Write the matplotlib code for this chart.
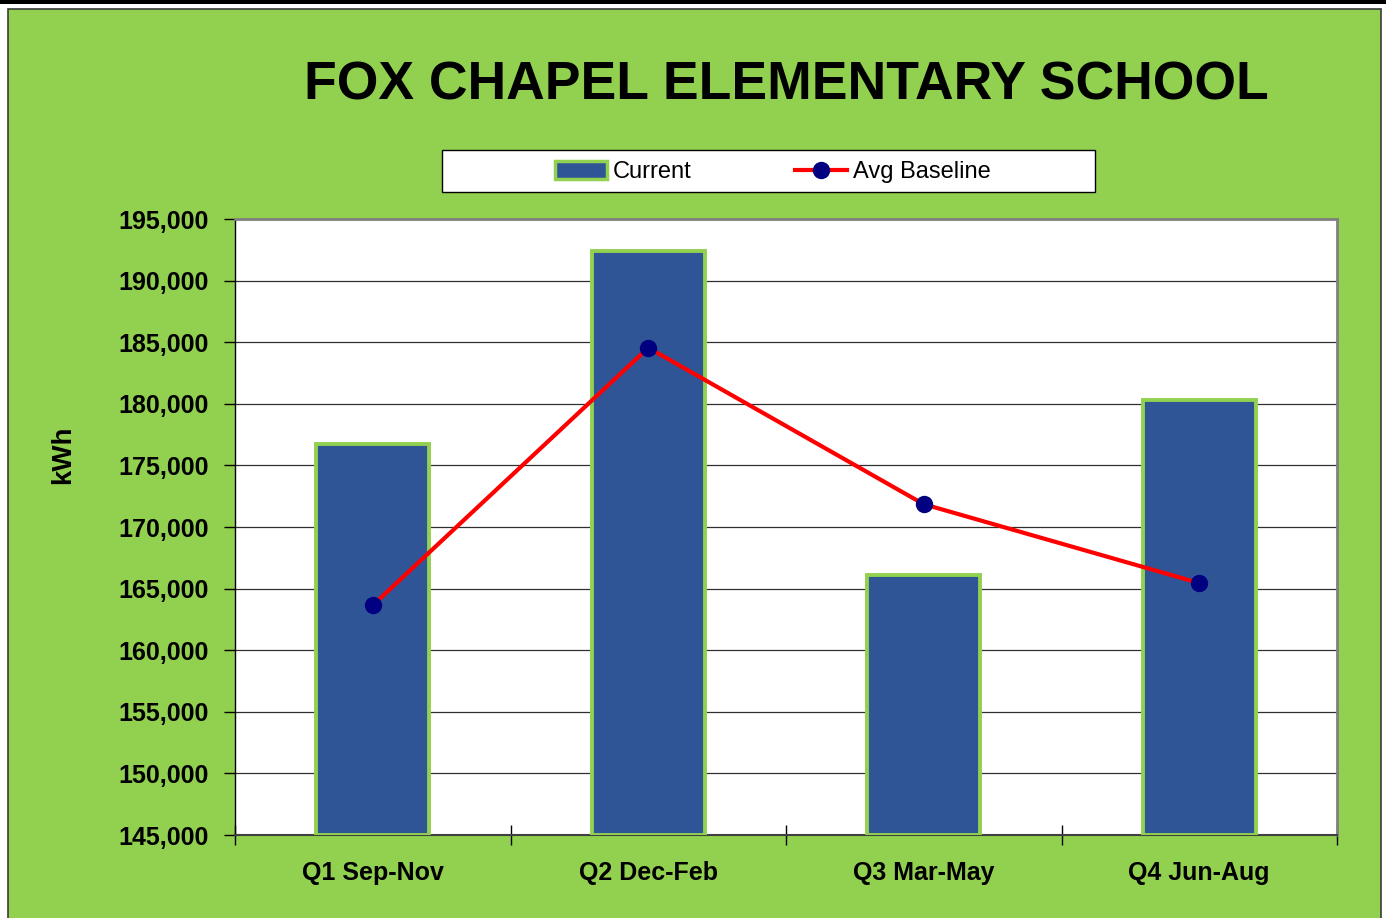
import matplotlib
matplotlib.use('Agg')
import matplotlib.pyplot as plt
from matplotlib.patches import Rectangle, Patch
from matplotlib.lines import Line2D
from matplotlib.ticker import FuncFormatter, FixedLocator

# ---- data ----
quarters = ['Q1 Sep-Nov', 'Q2 Dec-Feb', 'Q3 Mar-May', 'Q4 Jun-Aug']
current = [176700, 192400, 166100, 180300]
avg_baseline = [163650, 184550, 171850, 165450]

TITLE = 'FOX CHAPEL ELEMENTARY SCHOOL'
YLIM = (145000, 195000)

C_BG = '#92D050'
C_BAR = '#2F5597'
C_LINE = '#FF0000'
C_MARK = '#000080'
FONT = ['Liberation Sans Narrow', 'Liberation Sans', 'DejaVu Sans']

W, H = 1386, 918


def fx(px):
    return px / W


def fy(py):
    return 1 - py / H


fig = plt.figure(figsize=(W / 100, H / 100), dpi=100)
fig.patch.set_facecolor('white')

# black strip on top + green chart area
fig.add_artist(Rectangle((0, fy(3.5)), 1, 3.5 / H, transform=fig.transFigure,
                         facecolor='black', edgecolor='none', zorder=0))
fig.add_artist(Rectangle((fx(8), fy(930)), fx(1381) - fx(8), fy(9) - fy(930),
                         transform=fig.transFigure, facecolor=C_BG,
                         edgecolor='#3a3a3a', lw=1.2, zorder=0))

ax = fig.add_axes([fx(235), fy(835), fx(1337) - fx(235), fy(219) - fy(835)])
ax.set_facecolor('white')
ax.set_zorder(2)

x = list(range(len(quarters)))
ax.bar(x, [c - YLIM[0] for c in current], bottom=YLIM[0], width=0.41,
       color=C_BAR, edgecolor=C_BG, linewidth=2.8, zorder=3)
ax.plot(x, avg_baseline, color=C_LINE, lw=3, marker='o', markersize=11.5,
        markerfacecolor=C_MARK, markeredgecolor=C_MARK, zorder=4)

ax.set_xlim(-0.5, 3.5)
ax.set_ylim(*YLIM)
ax.yaxis.set_major_locator(FixedLocator(range(145000, 195001, 5000)))
ax.yaxis.set_major_formatter(FuncFormatter(lambda v, p: f'{int(v):,}'))
ax.grid(axis='y', color='#303030', lw=0.9, zorder=1)
ax.set_axisbelow(True)

ax.set_xticks([-0.5, 0.5, 1.5, 2.5, 3.5])
ax.set_xticklabels([])
ax.set_xticks(x, minor=True)
ax.set_xticklabels(quarters, minor=True, fontsize=18, fontweight='bold',
                   family=FONT)
ax.tick_params(axis='x', which='major', direction='inout', length=14,
               width=1, color='black')
ax.tick_params(axis='x', which='minor', length=0, pad=19)
ax.tick_params(axis='y', direction='out', length=8, width=1, pad=11,
               color='black')
for lab in ax.get_yticklabels():
    lab.set_fontsize(18)
    lab.set_fontweight('bold')
    lab.set_family(FONT)

for side in ('top', 'right'):
    ax.spines[side].set_color('#808080')
    ax.spines[side].set_linewidth(2)
ax.spines['left'].set_color('black')
ax.spines['left'].set_linewidth(1)
ax.spines['bottom'].set_color('#404040')
ax.spines['bottom'].set_linewidth(1.5)

fig.text(fx(63), fy(455), 'kWh', rotation=90, ha='center', va='center',
         fontsize=20, fontweight='bold', family=FONT)

fig.text(fx(786), fy(86), TITLE, ha='center', va='center', fontsize=38.5,
         fontweight='heavy', family=['Liberation Sans', 'DejaVu Sans'])

# legend box + entries
fig.add_artist(Rectangle((fx(442), fy(192)), fx(1095) - fx(442), fy(150) - fy(192),
                         transform=fig.transFigure, facecolor='white',
                         edgecolor='black', lw=1, zorder=1))
handles = [
    Patch(facecolor=C_BAR, edgecolor=C_BG, lw=2.5, label='Current'),
    Line2D([0], [0], color=C_LINE, lw=3, marker='o', markersize=11.5,
           markerfacecolor=C_MARK, markeredgecolor=C_MARK, label='Avg Baseline'),
]
leg = fig.legend(handles=handles, loc='center', bbox_to_anchor=(fx(773), fy(172)),
                 ncol=2, frameon=False, handlelength=2.2, handleheight=0.8,
                 handletextpad=0.25, columnspacing=4.4,
                 prop={'family': ['Liberation Sans', 'DejaVu Sans'], 'size': 17})
leg.set_zorder(5)

fig.savefig('out.png', dpi=100)
